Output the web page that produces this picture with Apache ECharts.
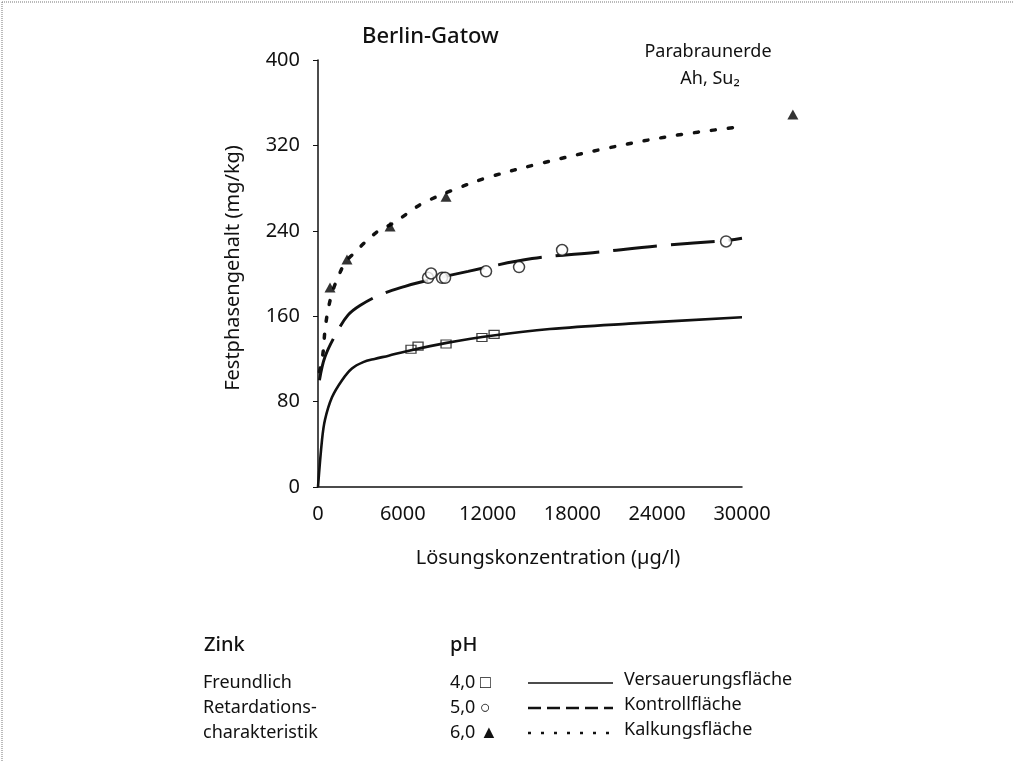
<!DOCTYPE html>
<html>
<head>
<meta charset="utf-8">
<script src="https://cdn.jsdelivr.net/npm/echarts@6/dist/echarts.min.js"></script>
<style>
  html, body { margin: 0; padding: 0; background: #fff; }
  #chart { width: 1013px; height: 762px; }
</style>
</head>
<body>
<div id="chart"></div>
<script>
// Zink-Sorption, Berlin-Gatow: Freundlich-Isothermen je Versuchsfläche
// Lösungskonzentration in µg/l, Festphasengehalt in mg/kg

// Messpunkte pH 4,0 (Versauerungsfläche)
const versauerungPunkte = [[6580, 129], [7080, 132], [9060, 134], [11600, 140], [12460, 143]];
// Messpunkte pH 5,0 (Kontrollfläche)
const kontrollPunkte = [[7785, 196], [8000, 200], [8775, 196], [8990, 196], [11890, 202], [14225, 206], [17270, 222], [28875, 230]];
// Messpunkte pH 6,0 (Kalkungsfläche)
const kalkungPunkte = [[850, 187], [2050, 213], [5100, 244], [9060, 272], [33600, 349]];

// Isothermenverläufe
const versauerungKurve = [[0, 0], [283, 44], [495, 63], [990, 84], [1700, 100], [2400, 111], [3200, 117], [4000, 120], [5000, 123], [6200, 127], [9100, 135], [12400, 142], [16400, 148], [22000, 153], [30000, 159]];
const kontrollKurve = [[100, 100], [495, 122], [1340, 145], [2120, 161], [2970, 170], [4390, 180], [6160, 188], [7290, 192], [10620, 202], [15150, 214], [19750, 220], [24200, 226], [28950, 231], [30000, 233]];
const kalkungKurve = [[100, 108], [350, 125], [495, 147], [700, 165], [1000, 182], [1340, 194], [1910, 210], [2620, 220], [3470, 231], [4390, 241], [5310, 247], [6510, 258], [7430, 266], [9700, 279], [12030, 290], [15710, 303], [20310, 317], [25120, 329], [29600, 337]];

// Achsen
const xTicks = { min: 0, max: 30000, interval: 6000 };
const yTicks = { min: 0, max: 400, interval: 80 };

// Legende
const legendZeilen = [
  { links: 'Freundlich', ph: '4,0 □', text: 'Versauerungsfläche', dash: null },
  { links: 'Retardations-', ph: '5,0 ○', text: 'Kontrollfläche', dash: [13, 6] },
  { links: 'charakteristik', ph: '6,0 ▲', text: 'Kalkungsfläche', dash: [3, 10] }
];

const FONT = '"Noto Sans", "Open Sans", sans-serif';
const INK = '#111';

const chart = echarts.init(document.getElementById('chart'), null, { renderer: 'canvas' });

const legendGraphics = [];
legendGraphics.push({ type: 'text', x: 204, y: 645, style: { text: 'Zink', font: '500 20px ' + FONT, fill: INK, verticalAlign: 'middle' } });
legendGraphics.push({ type: 'text', x: 450, y: 645, style: { text: 'pH', font: '500 20px ' + FONT, fill: INK, verticalAlign: 'middle' } });
legendZeilen.forEach(function (z, i) {
  const yc = 683 + i * 25;
  legendGraphics.push({ type: 'text', x: 203, y: yc, style: { text: z.links, font: '18px ' + FONT, fill: INK, verticalAlign: 'middle' } });
  legendGraphics.push({ type: 'text', x: 450, y: yc, style: { text: z.ph, font: '18px ' + FONT, fill: INK, verticalAlign: 'middle' } });
  legendGraphics.push({
    type: 'line', shape: { x1: 528, y1: yc, x2: 613, y2: yc },
    style: { stroke: INK, lineWidth: z.dash ? 2.4 : 1.6, lineDash: z.dash || null }
  });
  legendGraphics.push({ type: 'text', x: 624, y: yc - 3, style: { text: z.text, font: '18px ' + FONT, fill: INK, verticalAlign: 'middle' } });
});

const option = {
  backgroundColor: '#fff',
  animation: false,
  grid: { left: 318, right: 271, top: 60, bottom: 275, containLabel: false },
  xAxis: {
    type: 'value', min: xTicks.min, max: xTicks.max, interval: xTicks.interval,
    axisLine: { show: true, onZero: false, lineStyle: { color: INK, width: 1.5 } },
    axisTick: { show: false },
    splitLine: { show: false },
    axisLabel: { color: INK, fontFamily: FONT, fontSize: 20, margin: 17, formatter: function (v) { return String(v); } }
  },
  yAxis: {
    type: 'value', min: yTicks.min, max: yTicks.max, interval: yTicks.interval,
    axisLine: { show: true, lineStyle: { color: INK, width: 1.5 } },
    axisTick: { show: true, inside: false, length: 5, lineStyle: { color: INK, width: 1 } },
    splitLine: { show: false },
    axisLabel: { color: INK, fontFamily: FONT, fontSize: 20, margin: 18, formatter: function (v) { return String(v); } }
  },
  graphic: [
    { type: 'line', shape: { x1: 2, y1: 2, x2: 1013, y2: 2 }, style: { stroke: '#777', lineWidth: 1, lineDash: [1, 1] } },
    { type: 'line', shape: { x1: 2, y1: 2, x2: 2, y2: 762 }, style: { stroke: '#777', lineWidth: 1, lineDash: [1, 1] } },
    { type: 'text', x: 362, y: 37, style: { text: 'Berlin-Gatow', font: '500 22px ' + FONT, fill: INK, align: 'left', verticalAlign: 'middle' } },
    { type: 'text', x: 708, y: 52, style: { text: 'Parabraunerde', font: '18px ' + FONT, fill: INK, align: 'center', verticalAlign: 'middle' } },
    { type: 'text', x: 710, y: 79, style: { text: 'Ah, Su₂', font: '18px ' + FONT, fill: INK, align: 'center', verticalAlign: 'middle' } },
    { type: 'text', x: 233, y: 268, rotation: Math.PI / 2, style: { text: 'Festphasengehalt (mg/kg)', font: '20px ' + FONT, fill: INK, align: 'center', verticalAlign: 'middle' } },
    { type: 'text', x: 548, y: 558, style: { text: 'Lösungskonzentration (µg/l)', font: '20px ' + FONT, fill: INK, align: 'center', verticalAlign: 'middle' } }
  ].concat(legendGraphics),
  series: [
    {
      name: 'Versauerungsfläche', type: 'line', data: versauerungKurve, smooth: 0.35,
      showSymbol: false, symbol: 'none', lineStyle: { color: INK, width: 2.6 }, z: 2
    },
    {
      name: 'Kontrollfläche', type: 'line', data: kontrollKurve, smooth: 0.35,
      showSymbol: false, symbol: 'none', lineStyle: { color: INK, width: 3, type: [44, 14] }, z: 2
    },
    {
      name: 'Kalkungsfläche', type: 'line', data: kalkungKurve, smooth: 0.35,
      showSymbol: false, symbol: 'none', lineStyle: { color: INK, width: 3.5, type: [4, 13], cap: 'round' }, z: 2
    },
    {
      name: 'pH 4,0', type: 'scatter', data: versauerungPunkte, symbol: 'rect', symbolSize: [10, 8],
      itemStyle: { color: 'rgba(255,255,255,0)', borderColor: INK, borderWidth: 1.2 }, z: 3
    },
    {
      name: 'pH 5,0', type: 'scatter', data: kontrollPunkte, symbol: 'circle', symbolSize: 11,
      itemStyle: { color: '#fff', borderColor: INK, borderWidth: 1.5 }, z: 3
    },
    {
      name: 'pH 6,0', type: 'scatter', data: kalkungPunkte, symbol: 'triangle', symbolSize: [11, 10],
      clip: false, itemStyle: { color: '#000' }, z: 3
    }
  ]
};

chart.setOption(option);
</script>
</body>
</html>
